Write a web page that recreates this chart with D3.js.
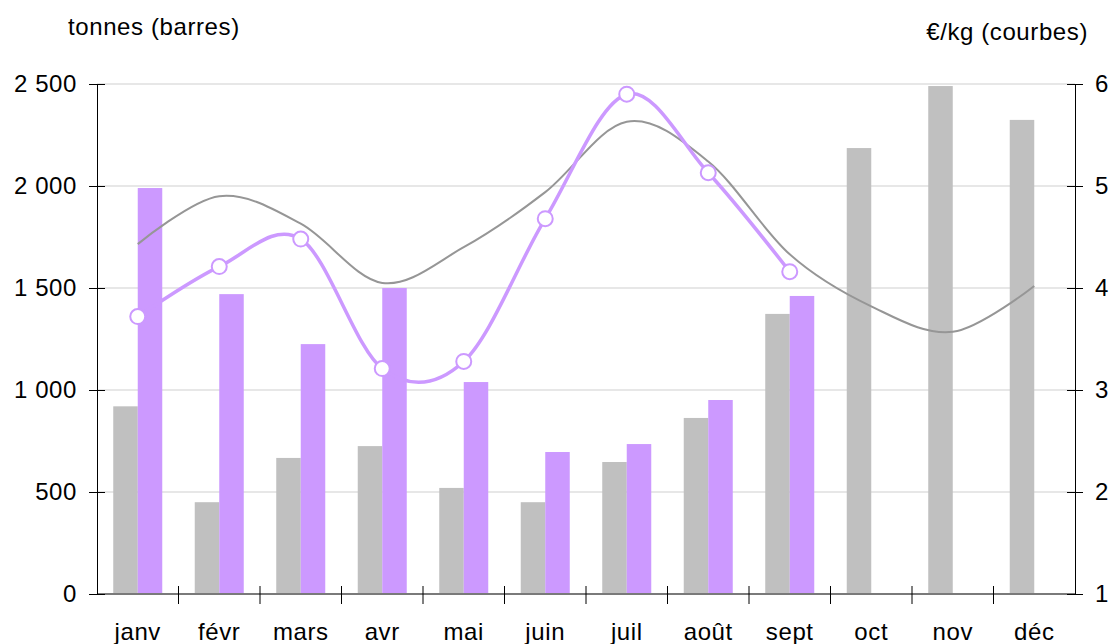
<!DOCTYPE html>
<html>
<head>
<meta charset="utf-8">
<script src="https://cdn.jsdelivr.net/npm/d3@7"></script>
<style>
  body { margin: 0; background: #fff; }
  svg { font-family: "Liberation Sans", Arial, sans-serif; letter-spacing: 0.6px; }
  .tick text { font-size: 24px; fill: #000; }
</style>
</head>
<body>
<svg class="chart-frame"></svg>
<script>
const months = ["janv", "févr", "mars", "avr", "mai", "juin", "juil", "août", "sept", "oct", "nov", "déc"];
// tonnes, grey bars (previous year) and purple bars (current year)
const tonnesPrev = [920, 450, 667, 725, 520, 450, 647, 863, 1373, 2186, 2490, 2324];
const tonnesCur = [1990, 1470, 1225, 1500, 1039, 696, 735, 951, 1461];
// €/kg, grey curve and purple curve
const pricePrev = [4.43, 4.90, 4.63, 4.05, 4.40, 4.94, 5.63, 5.24, 4.33, 3.82, 3.57, 4.02];
const priceCur = [3.72, 4.21, 4.48, 3.21, 3.28, 4.68, 5.90, 5.13, 4.16];
const leftTicks = [0, 500, 1000, 1500, 2000, 2500];
const rightTicks = [1, 2, 3, 4, 5, 6];

const grey = "#c0c0c0", purple = "#cc99ff";

const margin = {top: 84, right: 40, bottom: 50, left: 97}
  , width = 1115 - margin.left - margin.right
  , height = 644 - margin.top - margin.bottom;

const svg = d3.select(".chart-frame")
  .attr("width", 1115)
  .attr("height", 644)

const graph = svg.append("g")
  .attr("transform", "translate(" + margin.left + "," + margin.top + ")")

const xScale = d3.scaleBand()
  .range([0, 978])
  .domain(months)

const yLeft = d3.scaleLinear().range([height, 0]).domain([0, 2500]);
const yRight = d3.scaleLinear().range([height, 0]).domain([1, 6]);

const fmt = d => d3.format(",")(d).replace(",", " ");

// gridlines
graph.append("g")
  .selectAll("line")
  .data(leftTicks.slice(1))
  .enter().append("line")
  .attr("x1", 0).attr("x2", 978)
  .attr("y1", d => yLeft(d)).attr("y2", d => yLeft(d))
  .attr("stroke", "#d0d0d0")
  .attr("stroke-width", 1.2)

const barW = 24.5;
graph.append("g")
  .selectAll("rect")
  .data(tonnesPrev)
  .enter().append("rect")
  .attr("x", (d, i) => xScale(months[i]) + xScale.bandwidth() / 2 - barW)
  .attr("y", d => yLeft(d))
  .attr("width", barW)
  .attr("height", d => height - yLeft(d))
  .attr("fill", grey)

graph.append("g")
  .selectAll("rect")
  .data(tonnesCur)
  .enter().append("rect")
  .attr("x", (d, i) => xScale(months[i]) + xScale.bandwidth() / 2)
  .attr("y", d => yLeft(d))
  .attr("width", barW)
  .attr("height", d => height - yLeft(d))
  .attr("fill", purple)

// axes
const xAxisG = graph.append("g")
  .attr("transform", "translate(0," + height + ")")
xAxisG.append("line")
  .attr("x1", 0).attr("x2", 978)
  .attr("stroke", "#7a7a7a").attr("stroke-width", 2)
xAxisG.selectAll("line.tk")
  .data(d3.range(1, 12))
  .enter().append("line")
  .attr("class", "tk")
  .attr("x1", d => d * xScale.step()).attr("x2", d => d * xScale.step())
  .attr("y1", -8).attr("y2", 10)
  .attr("stroke", "#000")
xAxisG.selectAll("text")
  .data(months)
  .enter().append("text")
  .attr("x", d => xScale(d) + xScale.bandwidth() / 2)
  .attr("y", 46)
  .attr("text-anchor", "middle")
  .attr("font-size", "24px")
  .text(d => d)

const yAxisL = d3.axisLeft(yLeft)
  .tickValues(leftTicks)
  .tickFormat(fmt)
  .tickSizeInner(8)
  .tickSizeOuter(0)
const lg = graph.append("g").call(yAxisL)
lg.select(".domain").attr("stroke", "#000")
lg.selectAll(".tick line").attr("x2", 8).attr("x1", -8)
lg.selectAll(".tick text").attr("x", -20)

const yAxisR = d3.axisRight(yRight)
  .tickValues(rightTicks)
  .tickFormat(d3.format("d"))
  .tickSizeInner(8)
  .tickSizeOuter(0)
const rg = graph.append("g").attr("transform", "translate(978,0)").call(yAxisR)
rg.select(".domain").attr("stroke", "#000")
rg.selectAll(".tick line").attr("x1", -8).attr("x2", 8)
rg.selectAll(".tick text").attr("x", 20)

// curves
const cx = i => xScale(months[i]) + xScale.bandwidth() / 2;
const line = d3.line()
  .x((d, i) => cx(i))
  .y(d => yRight(d))
  .curve(d3.curveCatmullRom.alpha(0))

graph.append("path")
  .datum(pricePrev)
  .attr("d", line)
  .attr("fill", "none")
  .attr("stroke", "#969696")
  .attr("stroke-width", 2)

graph.append("path")
  .datum(priceCur)
  .attr("d", line)
  .attr("fill", "none")
  .attr("stroke", purple)
  .attr("stroke-width", 3.5)

graph.append("g")
  .selectAll("circle")
  .data(priceCur)
  .enter().append("circle")
  .attr("cx", (d, i) => cx(i))
  .attr("cy", d => yRight(d))
  .attr("r", 7.5)
  .attr("fill", "#fff")
  .attr("stroke", purple)
  .attr("stroke-width", 2)

// axis titles
svg.append("text")
  .attr("x", 68).attr("y", 35)
  .attr("font-size", "24px")
  .text("tonnes (barres)")
svg.append("text")
  .attr("x", 1088).attr("y", 40)
  .attr("text-anchor", "end")
  .attr("font-size", "24px")
  .text("€/kg (courbes)")
</script>
</body>
</html>
